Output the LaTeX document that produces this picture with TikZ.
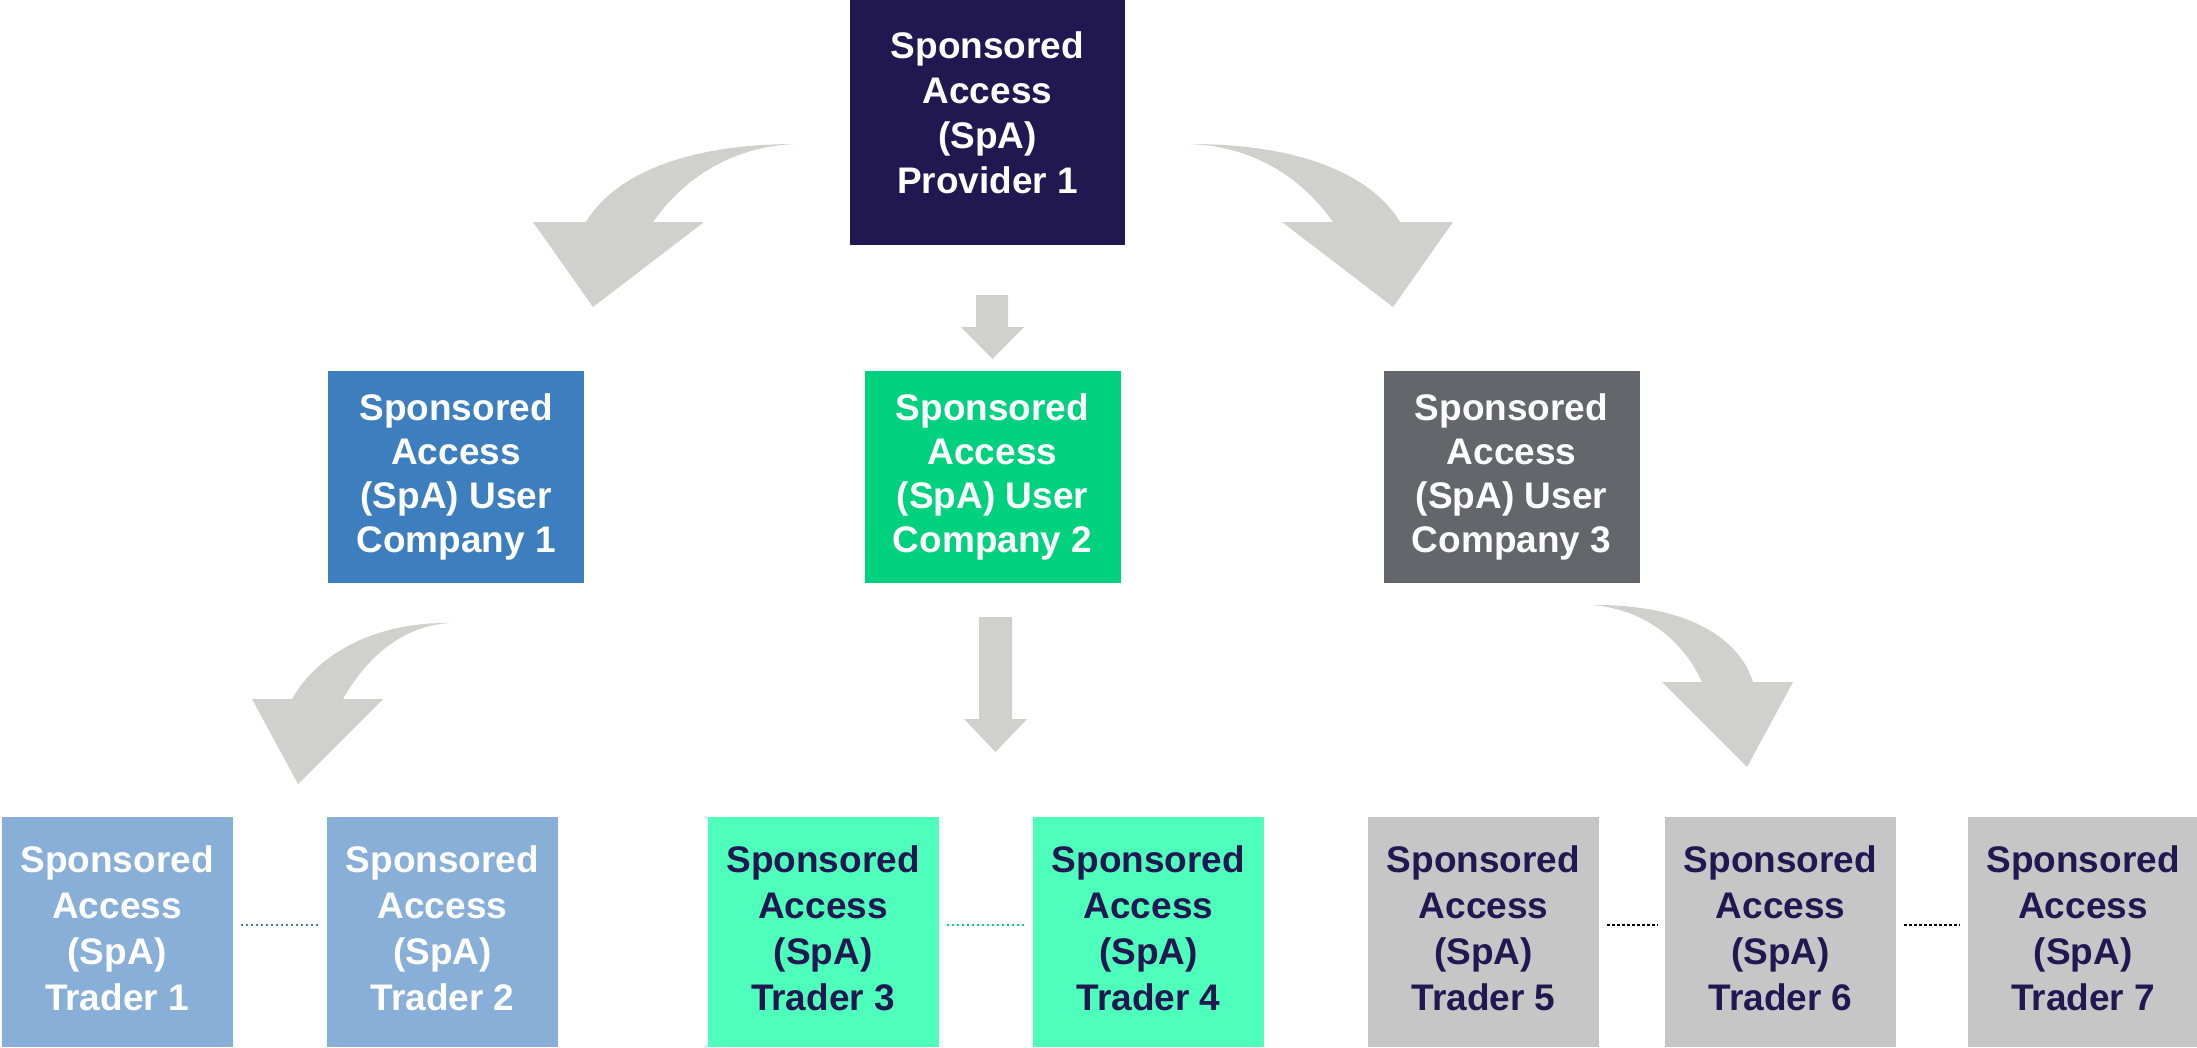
\documentclass[tikz,border=0pt]{standalone}
\usepackage{fontspec}
\setmainfont{Liberation Sans}
\definecolor{navy}{HTML}{211851}
\definecolor{cblue}{HTML}{3D7EBF}
\definecolor{cgreen}{HTML}{00D17F}
\definecolor{cgray}{HTML}{63666A}
\definecolor{tblue}{HTML}{88AFD8}
\definecolor{tgreen}{HTML}{4DFFBA}
\definecolor{tgray}{HTML}{C6C6C6}
\definecolor{arrowgray}{HTML}{D0D0CE}
\newcommand{\lowpad}[1]{\rule[-#1]{0pt}{0pt}}
\begin{document}
\begin{tikzpicture}[x=1pt,y=-1pt,
  box/.style={rectangle, inner sep=0pt, align=center},
  provbox/.style={box, fill=navy, text=white, minimum width=275pt, minimum height=245pt,
    font=\bfseries\fontsize{37}{45}\selectfont},
  compbox/.style={box, text=white, minimum width=256pt, minimum height=212pt,
    font=\bfseries\fontsize{37}{44}\selectfont},
  tradbox/.style={box, minimum width=231pt, minimum height=230pt,
    font=\bfseries\fontsize{37}{46}\selectfont},
  blockarrow/.style={fill=arrowgray},
  dotline/.style={line width=2.7pt, dash pattern=on 2.7pt off 2.3pt, shorten <=8pt, shorten >=7pt}]
\useasboundingbox (0,0) rectangle (2197,1047);

% nodes
\node[provbox] (prov) at (987.5,122.5) {Sponsored\\Access\\(SpA)\\Provider 1\lowpad{20pt}};

\node[compbox, fill=cblue] (c1) at (456,477) {Sponsored\\Access\\(SpA) User\\Company 1};
\node[compbox, fill=cgreen] (c2) at (992.5,477) {Sponsored\\Access\\(SpA) User\\Company 2};
\node[compbox, fill=cgray] (c3) at (1511.5,477) {Sponsored\\Access\\(SpA) User\\Company 3};

\node[tradbox, fill=tblue, text=white] (t1) at (117,932) {Sponsored\\Access\\(SpA)\\Trader 1\lowpad{8pt}};
\node[tradbox, fill=tblue, text=white] (t2) at (442.5,932) {Sponsored\\Access\\(SpA)\\Trader 2\lowpad{8pt}};
\node[tradbox, fill=tgreen, text=navy] (t3) at (823,932) {Sponsored\\Access\\(SpA)\\Trader 3\lowpad{8pt}};
\node[tradbox, fill=tgreen, text=navy] (t4) at (1148.5,932) {Sponsored\\Access\\(SpA)\\Trader 4\lowpad{8pt}};
\node[tradbox, fill=tgray, text=navy] (t5) at (1483.5,932) {Sponsored\\Access\\(SpA)\\Trader 5\lowpad{8pt}};
\node[tradbox, fill=tgray, text=navy] (t6) at (1780.5,932) {Sponsored\\Access\\(SpA)\\Trader 6\lowpad{8pt}};
\node[tradbox, fill=tgray, text=navy] (t7) at (2083,932) {Sponsored\\Access\\(SpA)\\Trader 7\lowpad{8pt}};

% block arrows
% top left curved
\fill[blockarrow] (796,144) .. controls (676,144) and (611,180) .. (586,222)
  -- (533,222) -- (593,307) -- (704,222) -- (653,222)
  .. controls (686,175) and (736,146) .. (796,144) -- cycle;
% top right curved
\fill[blockarrow] (1190,144) .. controls (1310,144) and (1375,180) .. (1400,222)
  -- (1453,222) -- (1393,307) -- (1282,222) -- (1333,222)
  .. controls (1300,175) and (1250,146) .. (1190,144) -- cycle;
% top straight down
\fill[blockarrow] (976,295) -- (1008,295) -- (1008,327) -- (1024,327)
  -- (992.5,359) -- (961,327) -- (976,327) -- cycle;
% middle left curved
\fill[blockarrow] (450,623) .. controls (380,622) and (320,650) .. (292,699)
  -- (252,699) -- (298,784) -- (383,699) -- (343,699)
  .. controls (365,660) and (400,626) .. (450,623) -- cycle;
% middle straight down
\fill[blockarrow] (979,617) -- (1012,617) -- (1012,719) -- (1027,719)
  -- (995.5,752) -- (964,719) -- (979,719) -- cycle;
% middle right curved
\fill[blockarrow] (1592,605) .. controls (1690,604) and (1740,640) .. (1753,682)
  -- (1793,682) -- (1747,767) -- (1662,682) -- (1702,682)
  .. controls (1685,645) and (1650,610) .. (1592,605) -- cycle;

% dotted links
\draw[dotline, draw=cblue] ([yshift=7pt]t1.east) -- ([yshift=7pt]t2.west);
\draw[dotline, draw=cgreen] ([yshift=7pt]t3.east) -- ([yshift=7pt]t4.west);
\draw[dotline, draw=black] ([yshift=7pt]t5.east) -- ([yshift=7pt]t6.west);
\draw[dotline, draw=black] ([yshift=7pt]t6.east) -- ([yshift=7pt]t7.west);
\end{tikzpicture}
\end{document}
